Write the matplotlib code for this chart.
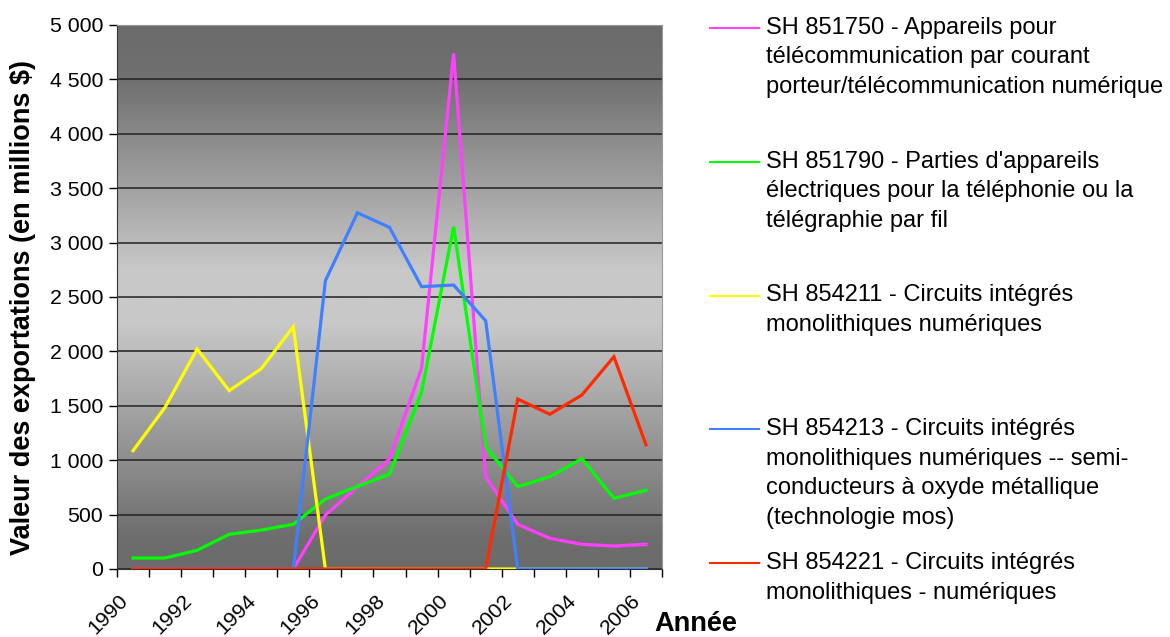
import numpy as np
import matplotlib
matplotlib.use("Agg")
import matplotlib.pyplot as plt
from matplotlib.colors import LinearSegmentedColormap
from matplotlib.ticker import FuncFormatter, FixedLocator
from matplotlib.lines import Line2D
import matplotlib.transforms as mtransforms

plt.rcParams['font.family'] = ['Liberation Sans', 'DejaVu Sans']

# données (millions $)
years = list(range(1990, 2007))
sh851750 = [0, 0, 0, 0, 0, 0, 496, 755, 1011, 1845, 4739, 848, 411, 282, 227, 211, 227]
sh851790 = [101, 101, 172, 319, 358, 411, 643, 760, 870, 1624, 3146, 1124, 757, 848, 1014, 650, 723]
sh854211 = [1087, 1486, 2022, 1639, 1841, 2227, 0, 0, 0, 0, 0, 0, 0, 0, 0, 0, 0]
sh854213 = [0, 0, 0, 0, 0, 0, 2650, 3274, 3140, 2595, 2610, 2282, 0, 0, 0, 0, 0]
sh854221 = [0, 0, 0, 0, 0, 0, 0, 0, 0, 0, 0, 0, 1562, 1422, 1599, 1951, 1142]

series = [sh851750, sh851790, sh854211, sh854213, sh854221]
names = [
    "SH 851750 - Appareils pour\ntélécommunication par courant\nporteur/télécommunication numérique",
    "SH 851790 - Parties d'appareils\nélectriques pour la téléphonie ou la\ntélégraphie par fil",
    "SH 854211 - Circuits intégrés\nmonolithiques numériques",
    "SH 854213 - Circuits intégrés\nmonolithiques numériques -- semi-\nconducteurs à oxyde métallique\n(technologie mos)",
    "SH 854221 - Circuits intégrés\nmonolithiques - numériques",
]
colors = ["#ff40ff", "#00ff00", "#ffff00", "#4080ff", "#ff2a00"]

W, H = 1170, 637
fig = plt.figure(figsize=(W / 100, H / 100), dpi=100)
ax = fig.add_axes([117 / W, 1 - 569 / H, 545 / W, 544 / H])

# fond en dégradé gris
cmap = LinearSegmentedColormap.from_list("fond", [
    (0.0, "#6b6b6b"), (0.06, "#6e6e6e"), (0.45, "#c8c8c8"),
    (0.55, "#c8c8c8"), (0.9, "#707070"), (1.0, "#6b6b6b")])
grad = np.linspace(0, 1, 256).reshape(-1, 1)
ax.imshow(grad, cmap=cmap, aspect='auto', extent=[0, 1, 0, 1],
          origin='lower', transform=ax.transAxes, zorder=0)

x = np.arange(len(years))
for vals, c in zip(series, colors):
    ax.plot(x, vals, color=c, lw=2.3, zorder=3, solid_joinstyle='miter')

ax.set_xlim(-0.5, len(years) - 0.5)
ax.set_ylim(0, 5000)
ax.set_yticks(np.arange(0, 5001, 500))
ax.yaxis.set_major_formatter(FuncFormatter(lambda v, p: f"{int(v):,}".replace(",", " ")))
ax.grid(axis='y', color='#222222', lw=1.1, zorder=1)
ax.tick_params(axis='y', length=6, width=1, labelsize=15.3, pad=4)

# graduations aux limites des catégories, étiquettes une année sur deux
ax.xaxis.set_major_locator(FixedLocator(np.arange(-0.5, len(years), 1)))
ax.set_xticklabels([])
ax.tick_params(axis='x', length=6, width=1)
lab_tr = mtransforms.offset_copy(ax.get_xaxis_transform(), fig=fig, x=-8, y=-29, units='dots')
for i, yr in enumerate(years):
    if yr % 2 == 0:
        ax.text(i, 0, str(yr), transform=lab_tr, rotation=45, rotation_mode='anchor',
                ha='right', va='center', fontsize=15.3)

for side in ['top', 'right']:
    ax.spines[side].set_color('#999999')
for side in ['left', 'bottom']:
    ax.spines[side].set_color('#333333')

ax.set_ylabel("Valeur des exportations (en millions $)", fontsize=19.5,
              fontweight='bold', va='center')
ax.yaxis.set_label_coords(-0.1725, 0.48)
ax.set_xlabel("Année", fontsize=19.5, fontweight='bold', va='center', ha='center')
ax.xaxis.set_label_coords(1.062, -0.101)

# légende
y0, step, lsp = 28, 133.75, 29.5
for k, (name, c) in enumerate(zip(names, colors)):
    yc = y0 + k * step
    fig.add_artist(Line2D([710 / W, 759 / W], [1 - yc / H, 1 - yc / H],
                          color=c, lw=1.5, transform=fig.transFigure))
    for j, line in enumerate(name.split("\n")):
        fig.text(766 / W, 1 - (yc + j * lsp) / H, line, fontsize=17,
                 va='center', ha='left')

fig.savefig("out.png", dpi=100)
